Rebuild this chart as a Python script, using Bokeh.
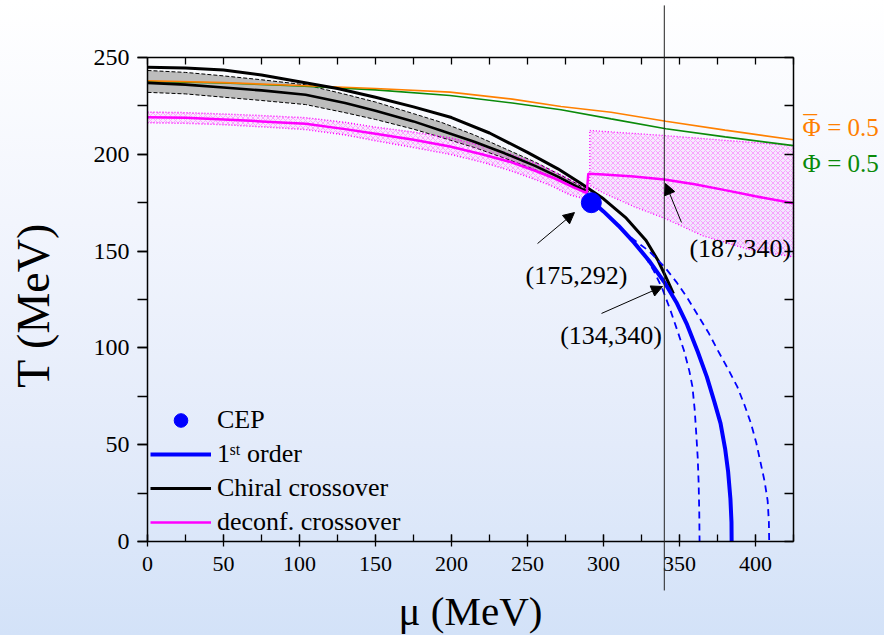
from math import pi
from bokeh.plotting import figure
from bokeh.models import (LinearAxis, Range1d, SingleIntervalTicker, Label, Arrow,
                          NormalHead, Legend, LegendItem, CustomJSTickFormatter)
from bokeh.embed import file_html
from bokeh.resources import INLINE

# ---------------- data ----------------
mu_chiral = [0, 25, 50, 75, 100, 125, 150, 175, 200, 225, 250, 270, 285, 300, 315, 328, 336, 342, 346]
T_chiral = [245, 244.6, 243.5, 241, 237.5, 234, 229.5, 224.5, 219, 211, 201, 192.5, 185, 177, 167,
            155.5, 145, 135, 128]

mu_band = [0, 25, 50, 75, 104, 130, 150, 175, 193, 215, 235, 255, 270, 282, 290]
T_band_upper = [243.3, 242.3, 240.5, 238.5, 235.9, 231, 227, 221, 216.6, 210, 203, 196, 190, 185, 181]
T_band_lower = [232, 231.2, 229.5, 227.8, 225.7, 221.5, 218, 213, 208.8, 203.5, 198, 192, 187, 182.5, 179.5]
T_band_center = [236.9, 236, 234.5, 233, 230.8, 226.5, 222.5, 217, 212.3, 206.5, 200.5, 194, 188.5, 183.5, 180.3]

mu_deconf = [0, 25, 50, 75, 104, 130, 150, 175, 199, 220, 239, 255, 268, 280, 289, 290, 300, 320,
             340, 360, 380, 400, 425]
T_deconf = [219.2, 218.9, 218, 217, 215.8, 213, 210.6, 207.5, 204, 200, 196, 191.5, 187.5, 183, 180,
            190, 189.6, 188.5, 187, 184.5, 181.5, 178.3, 174.7]

mu_dband = [0, 25, 50, 75, 104, 130, 150, 175, 199, 220, 239, 255, 265, 278, 288]
T_dband_upper = [221.8, 221.5, 220.8, 220, 218.9, 216.5, 214, 211.5, 208.5, 204.5, 200, 195.5, 192, 187, 183]
T_dband_lower = [216.3, 216, 215.3, 214.2, 212.8, 210, 207, 203.5, 200, 196, 191.5, 187, 184, 179, 177]

mu_dreg_top = [291, 340, 380, 425]
T_dreg_top = [212.3, 209.7, 207.2, 204.5]
mu_dreg_bot = [425, 395, 365, 340, 320, 300, 291]
T_dreg_bot = [147, 151, 158, 167, 173, 180, 184]

mu_first = [293, 300, 310, 320, 330, 340, 348, 355, 362, 368, 373, 377, 380, 382, 383.5, 384.2, 384.3]
T_first = [175.3, 170.5, 163, 154.5, 145, 134, 123.5, 112, 98, 85, 72, 61, 48, 36, 22, 10, 0]

mu_first_in = [318, 326, 333, 339, 344, 349, 353, 356.5, 358.5, 360, 361, 362, 362.6, 363, 363.2]
T_first_in = [157, 149, 140, 130, 119.5, 108, 98.5, 88, 80, 68, 56, 43, 30, 15, 0]
mu_first_out = [318, 330, 340, 348, 355, 362, 369, 375, 382, 388, 393, 397, 400.5, 403, 406, 408,
                408.8, 409]
T_first_out = [157, 150, 142, 134, 126, 117, 108, 99, 89, 80, 70, 61, 51, 42, 31, 21, 10, 0]

mu_phi = [0, 50, 100, 150, 199, 240, 272, 305, 341, 380, 425]
T_phibar = [238, 237, 235.5, 234, 232.1, 228.5, 224.7, 221.7, 217.1, 212.5, 207.5]
T_phi = [237.6, 236.8, 235.3, 233.3, 230.4, 226.5, 223, 218.3, 213.2, 209, 204.5]

mu_cep = [292]
T_cep = [175]

MU_MAX, T_MAX = 425, 250
mu_marker = 340

FONT = "Liberation Serif"

# ---------------- layout: the frame fills the whole canvas, axes are fixed at data positions
W, H = 884, 635
FRAME_L, FRAME_R, FRAME_T, FRAME_B = 147, 793, 57, 541   # pixel box of the axes
sx = (FRAME_R - FRAME_L) / MU_MAX
sy = (FRAME_B - FRAME_T) / T_MAX
x_range = Range1d(-FRAME_L / sx, MU_MAX + (W - FRAME_R) / sx)
y_range = Range1d(-(H - FRAME_B) / sy, T_MAX + FRAME_T / sy)

p = figure(width=W, height=H, x_range=x_range, y_range=y_range,
           output_backend="svg", toolbar_location=None,
           x_axis_location=None, y_axis_location=None,
           min_border_left=0, min_border_right=0, min_border_top=0, min_border_bottom=0)
p.grid.visible = False
p.background_fill_alpha = 0
p.border_fill_alpha = 0
p.outline_line_color = None
p.styles = {"background": "linear-gradient(180deg, #ffffff 0%, #f2f5fd 35%, #e3ebfa 70%, #d3e2f8 100%)"}

blank = CustomJSTickFormatter(code="return ''")

def style_axis(ax):
    ax.axis_line_width = 1.5
    ax.major_tick_line_width = 1.3
    ax.minor_tick_line_width = 1.3
    ax.major_label_text_font = FONT
    ax.major_label_text_color = "black"

left = LinearAxis(fixed_location=0, bounds=(0, T_MAX),
                  ticker=SingleIntervalTicker(interval=50, num_minor_ticks=2))
style_axis(left)
left.major_tick_out = 10
left.major_tick_in = 0
left.minor_tick_out = 10
left.minor_tick_in = 0
left.major_label_standoff = 8
left.major_label_text_font_size = "24px"
p.add_layout(left, "left")

bottom = LinearAxis(fixed_location=0, bounds=(0, MU_MAX),
                    ticker=SingleIntervalTicker(interval=50, num_minor_ticks=2))
style_axis(bottom)
bottom.major_tick_out = 5
bottom.major_tick_in = 7
bottom.minor_tick_out = 0
bottom.minor_tick_in = 7
bottom.major_label_standoff = 10
bottom.major_label_text_font_size = "22px"
p.add_layout(bottom, "below")

top = LinearAxis(fixed_location=T_MAX, bounds=(0, MU_MAX), formatter=blank,
                 ticker=SingleIntervalTicker(interval=25, num_minor_ticks=0))
style_axis(top)
top.major_tick_in = 7
top.major_tick_out = 0
top.major_label_standoff = 0
p.add_layout(top, "above")

right = LinearAxis(fixed_location=MU_MAX, bounds=(0, T_MAX), formatter=blank,
                   ticker=SingleIntervalTicker(interval=25, num_minor_ticks=0))
style_axis(right)
right.major_tick_in = 9
right.major_tick_out = 0
right.major_label_standoff = 0
p.add_layout(right, "right")

# axis titles
p.add_layout(Label(x=-75, y=122, text="T (MeV)", angle=pi / 2, text_font=FONT,
                   text_font_size="46px", text_align="center", text_baseline="middle",
                   text_color="black"))
p.add_layout(Label(x=212.5, y=-36, text="μ (MeV)", text_font=FONT, text_font_size="41px",
                   text_align="center", text_baseline="middle", text_color="black"))

# ---------------- bands ----------------
p.varea(x=mu_band, y1=T_band_lower, y2=T_band_upper, fill_color="#bdbdbd", fill_alpha=1)
p.line(mu_band, T_band_upper, line_color="black", line_width=1, line_dash="4 2")
p.line(mu_band, T_band_lower, line_color="black", line_width=1, line_dash="4 2")

hatch = dict(fill_color="#ff00ff", fill_alpha=0.06, hatch_pattern="x", hatch_color="#ff00ff",
             hatch_alpha=0.5, hatch_scale=5, hatch_weight=0.6)
p.varea(x=mu_dband, y1=T_dband_lower, y2=T_dband_upper, **hatch)
p.line(mu_dband, T_dband_upper, line_color="#ff00ff", line_width=1.5, line_dash="1 2")
p.line(mu_dband, T_dband_lower, line_color="#ff00ff", line_width=1.5, line_dash="1 2")

reg_x = mu_dreg_top + mu_dreg_bot
reg_y = T_dreg_top + T_dreg_bot
p.patch(reg_x, reg_y, line_color="#ff00ff", line_width=1.3, line_dash="1 2", **hatch)

# ---------------- lines ----------------
p.line(mu_phi, T_phi, line_color="#0a8a0a", line_width=1.6)
p.line(mu_phi, T_phibar, line_color="#ff8000", line_width=1.6)

p.line(mu_band, T_band_center, line_color="black", line_width=2.6)
chiral = p.line(mu_chiral, T_chiral, line_color="black", line_width=3)

deconf = p.line(mu_deconf, T_deconf, line_color="#ff00ff", line_width=2.5)

p.line(mu_first_in, T_first_in, line_color="#0000ff", line_width=1.8, line_dash="7 5")
p.line(mu_first_out, T_first_out, line_color="#0000ff", line_width=1.8, line_dash="7 5")
first = p.line(mu_first, T_first, line_color="#0000ff", line_width=4)

cep = p.scatter(mu_cep, T_cep, size=20, marker="circle", fill_color="#0000ff", line_color="#0000ff")

# vertical marker line at mu = 340 (runs past the axes box)
p.add_layout(Arrow(end=None, x_start=mu_marker, y_start=-25.3, x_end=mu_marker, y_end=276.9,
                   line_color="#222222", line_width=1))

# ---------------- legend ----------------
legend = Legend(items=[LegendItem(label="CEP", renderers=[cep]),
                       LegendItem(label="1ˢᵗ order", renderers=[first]),
                       LegendItem(label="Chiral crossover", renderers=[chiral]),
                       LegendItem(label="deconf. crossover", renderers=[deconf])],
                location=(FRAME_L + 3, H - FRAME_B + 2), background_fill_alpha=0,
                border_line_color=None, label_text_font=FONT, label_text_font_size="26px",
                label_text_color="black",
                glyph_width=61, glyph_height=34, label_height=34, spacing=0,
                padding=0, margin=0, label_standoff=6)
p.add_layout(legend)

# ---------------- annotations ----------------
def note(text, x, y, color="black", size="26px", align="center", baseline="middle"):
    p.add_layout(Label(x=x, y=y, text=text, text_font=FONT, text_font_size=size,
                       text_align=align, text_baseline=baseline, text_color=color))

def arrow(x0, y0, x1, y1):
    p.add_layout(Arrow(end=NormalHead(size=11, fill_color="black", line_color="black"),
                       x_start=x0, y_start=y0, x_end=x1, y_end=y1,
                       line_color="black", line_width=1))

note("(175,292)", 282.2, 137.4)
arrow(256.6, 153.9, 280.9, 169.9)
note("(134,340)", 305, 106.4)
arrow(298.7, 117.8, 338.8, 131.7)
note("(187,340)", 390, 151.3)
arrow(351.3, 164.8, 340.8, 184.9)

note("Φ = 0.5", 431, 213.8, color="#ff8000", size="25px", align="left")
note("‾", 432, 212.8, color="#ff8000", size="36px", align="left")
note("Φ = 0.5", 431, 195, color="#0a8a0a", size="25px", align="left")

open("out.html", "w").write(file_html(p, INLINE))
